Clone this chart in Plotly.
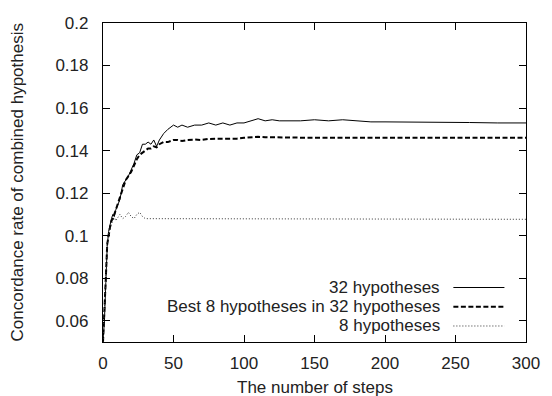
import plotly.graph_objects as go

steps = [0, 1, 2, 3, 4, 5, 6, 7, 8, 9, 10, 12, 14, 16, 18, 20, 22, 24, 26, 28, 30, 32, 34, 36, 38, 40,
         43, 46, 50, 53, 56, 60, 65, 70, 75, 80, 85, 90, 95, 100, 105, 110, 115, 120, 125, 130,
         140, 150, 160, 170, 180, 190, 200, 220, 240, 260, 280, 300]

hyp32 = [0.050, 0.060, 0.078, 0.095, 0.102, 0.106, 0.108, 0.110, 0.109, 0.112, 0.114, 0.117, 0.124,
         0.126, 0.128, 0.131, 0.134, 0.138, 0.139, 0.143, 0.143, 0.144, 0.143, 0.145, 0.142, 0.145,
         0.148, 0.150, 0.152, 0.151, 0.152, 0.151, 0.152, 0.152, 0.153, 0.152, 0.153, 0.152, 0.153,
         0.153, 0.154, 0.155, 0.154, 0.1545, 0.154, 0.154, 0.154, 0.1545, 0.154, 0.1545, 0.154,
         0.1535, 0.1535, 0.1535, 0.1533, 0.1532, 0.153, 0.153]

best8 = [0.050, 0.062, 0.080, 0.096, 0.101, 0.104, 0.107, 0.108, 0.110, 0.112, 0.113, 0.117, 0.122,
         0.126, 0.128, 0.130, 0.133, 0.136, 0.138, 0.139, 0.140, 0.141, 0.141, 0.142, 0.1415, 0.143,
         0.144, 0.144, 0.145, 0.145, 0.1445, 0.145, 0.1452, 0.145, 0.1455, 0.1455, 0.1453, 0.1455,
         0.1456, 0.146, 0.1462, 0.1465, 0.1463, 0.1462, 0.1461, 0.1461, 0.1461, 0.1461, 0.1461,
         0.1461, 0.146, 0.146, 0.146, 0.146, 0.146, 0.146, 0.146, 0.146]

hyp8 = [0.050, 0.064, 0.082, 0.097, 0.102, 0.104, 0.106, 0.108, 0.109, 0.107, 0.108, 0.110, 0.108,
        0.109, 0.111, 0.109, 0.108, 0.110, 0.111, 0.109, 0.108, 0.108, 0.1078, 0.108, 0.1077, 0.1078,
        0.1077, 0.1078, 0.1077, 0.1077, 0.1078, 0.1077, 0.1077, 0.1077, 0.1077, 0.1077, 0.1077,
        0.1077, 0.1077, 0.1077, 0.1077, 0.1077, 0.1077, 0.1077, 0.1077, 0.1077, 0.1077, 0.1077,
        0.1077, 0.1077, 0.1077, 0.1077, 0.1077, 0.1077, 0.1077, 0.1077, 0.1077, 0.1077]

series_names = ["32 hypotheses", "Best 8 hypotheses in 32 hypotheses", "8 hypotheses"]
x_ticks = [0, 50, 100, 150, 200, 250, 300]
y_ticks = [0.06, 0.08, 0.1, 0.12, 0.14, 0.16, 0.18, 0.2]
y_tick_text = ["0.06", "0.08", "0.1", "0.12", "0.14", "0.16", "0.18", "0.2"]

styles = [dict(width=1, dash="solid", color="black"),
          dict(width=2, dash="5px,2.5px", color="black"),
          dict(width=1, dash="1px,2px", color="#333")]
FONT = "Liberation Sans, Arial, sans-serif"
FS = 17
TXT = "#222"

fig = go.Figure()
for name, vals, st in zip(series_names, [hyp32, best8, hyp8], styles):
    fig.add_trace(go.Scatter(x=steps, y=vals, mode="lines", name=name,
                             line=dict(color=st["color"], width=st["width"], dash=st["dash"]),
                             showlegend=False))

# manual gnuplot-style legend (text right, sample line after)
legend_y = [0.1708, 0.1107, 0.0502]
for name, st, ly in zip(series_names, styles, legend_y):
    fig.add_annotation(x=0.8005, y=ly, xref="paper", yref="paper", text=name, showarrow=False,
                       xanchor="right", yanchor="middle", font=dict(size=FS, color=TXT, family=FONT))
    fig.add_shape(type="line", xref="paper", yref="paper", x0=0.8283, x1=0.949, y0=ly, y1=ly,
                  line=dict(color=st["color"], width=st["width"], dash=st["dash"]))

fig.add_annotation(x=0.5, y=0, xref="paper", yref="paper", text="The number of steps", showarrow=False,
                   xanchor="center", yanchor="middle", yshift=-45,
                   font=dict(size=FS, color=TXT, family=FONT))
fig.add_annotation(x=0, y=0.5, xref="paper", yref="paper", text="Concordance rate of combined hypothesis",
                   showarrow=False, xanchor="center", yanchor="middle", xshift=-86, textangle=-90,
                   font=dict(size=FS, color=TXT, family=FONT))

axis_common = dict(showline=True, mirror="allticks", linecolor="black", linewidth=1.2,
                   ticks="inside", ticklen=7, tickcolor="black", showgrid=False, zeroline=False,
                   tickfont=dict(size=FS, color=TXT, family=FONT))
fig.update_xaxes(range=[0, 300], tickvals=x_ticks, ticklabelstandoff=5, **axis_common)
fig.update_yaxes(range=[0.05, 0.2], tickvals=y_ticks, ticktext=y_tick_text, ticklabelstandoff=10,
                 **axis_common)

fig.update_layout(width=552, height=396, margin=dict(l=103, r=18, t=23, b=54),
                  plot_bgcolor="white", paper_bgcolor="white",
                  font=dict(family=FONT, size=FS, color=TXT))

fig.write_html("out.html")
